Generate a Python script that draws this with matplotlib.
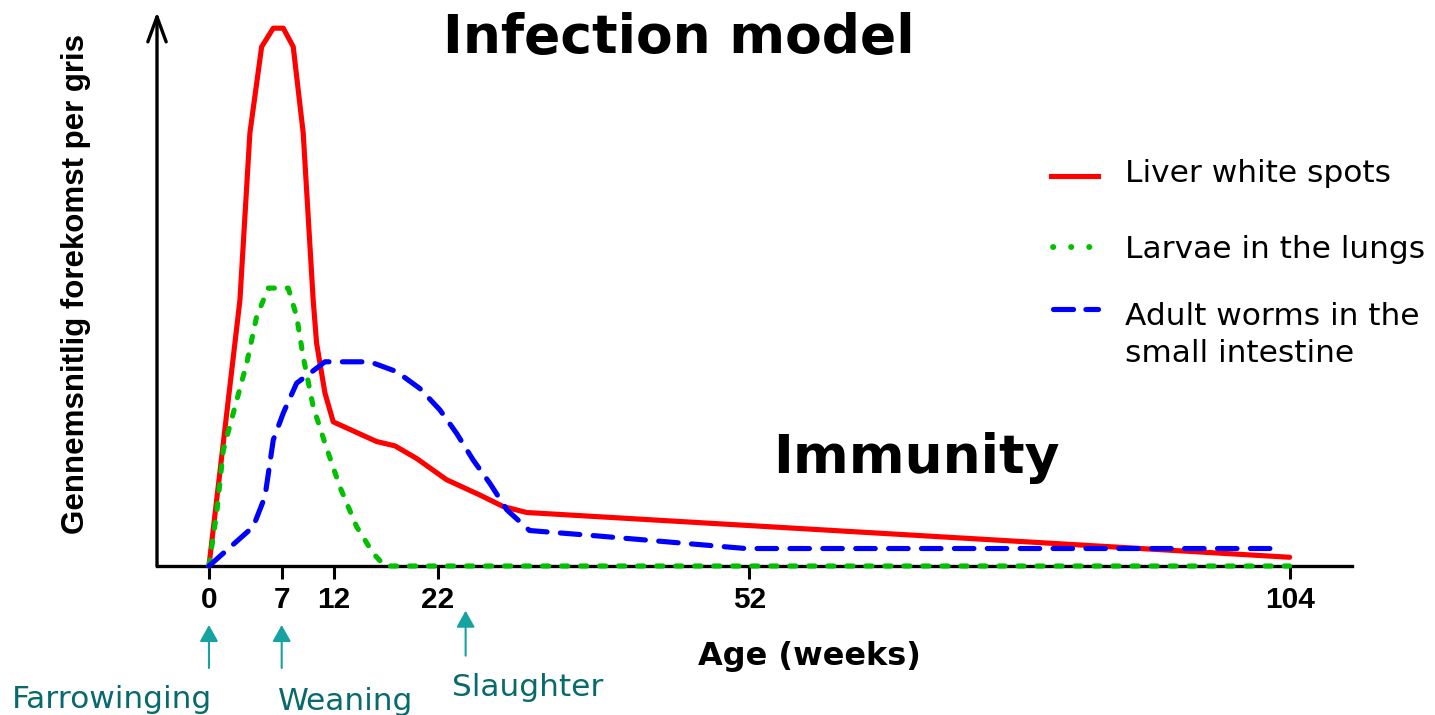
import matplotlib
matplotlib.use("Agg")
import matplotlib.pyplot as plt
from matplotlib.lines import Line2D

# data (age in weeks, relative level 0-100)
liver_weeks = [0, 2.98, 3.94, 5.07, 6.19, 7.15, 8.11, 9.07, 10.03, 10.36, 11.16, 11.96,
               16.13, 17.9, 19.98, 22.87, 26.07, 28.31, 30.57, 52.05, 104]
liver_level = [0, 48.7, 79.3, 95.1, 98.5, 98.5, 95.1, 79.3, 48.7, 40.8, 31.7, 26.4,
               22.8, 22.0, 19.7, 15.8, 13.0, 10.9, 9.8, 7.4, 1.6]

larvae_weeks = [0, 0.74, 1.38, 2.34, 3.63, 4.59, 5.71, 7.63, 8.44, 9.07, 10.03, 11.16,
                12.6, 14.21, 15.81, 16.93, 104]
larvae_level = [0, 9.7, 21.2, 28.0, 37.1, 45.7, 50.9, 50.9, 45.7, 38.3, 29.2, 22.5,
                14.5, 7.2, 2.3, 0, 0]

adult_weeks = [0, 4.26, 5.39, 6.19, 7.15, 8.44, 9.72, 11.16, 15.49, 18.06, 20.3, 22.22,
               23.83, 25.43, 27.05, 28.66, 30.85, 37.43, 51.66, 103]
adult_level = [0, 7.2, 12.7, 23.1, 28.0, 33.5, 35.3, 37.4, 37.4, 35.6, 32.5, 28.6,
               24.3, 19.4, 15.1, 10.3, 6.5, 5.5, 3.2, 3.2]

tick_weeks = [0, 7, 12, 22, 52, 104]
events = ["Farrowinging", "Weaning", "Slaughter"]
event_weeks = [0, 7, 24.7]

W, H = 1435, 715


def fpx(x, y):
    return x / W, 1 - y / H


fig = plt.figure(figsize=(W / 100, H / 100), dpi=100)
ax = fig.add_axes([157 / W, (H - 566) / H, (1352 - 157) / W, (566 - 12) / H])
ax.set_xlim(-5.0, 110.0)
ax.set_ylim(0, 554 / 5.46)

lw = 3.7
ax.plot(liver_weeks, liver_level, color="#ff0000", lw=lw, solid_capstyle="round",
        solid_joinstyle="round", zorder=3, clip_on=False)
ax.plot(larvae_weeks, larvae_level, color="#00c000", lw=lw, dashes=(1.2, 2.5),
        dash_capstyle="round", zorder=4, clip_on=False)
ax.plot(adult_weeks, adult_level, color="#0000ff", lw=lw, dashes=(3.8, 2.6),
        dash_capstyle="round", zorder=5, clip_on=False)

for s in ["top", "right", "left"]:
    ax.spines[s].set_visible(False)
ax.spines["bottom"].set_linewidth(2.4)
ax.spines["bottom"].set_zorder(2)

# left axis with open arrow head
ax.annotate("", xy=(0, 1), xytext=(0, 0), xycoords="axes fraction",
            arrowprops=dict(arrowstyle="->,head_length=0.9,head_width=0.33",
                            mutation_scale=20, lw=2.4, color="black",
                            shrinkA=0, shrinkB=0))

ax.set_yticks([])
ax.set_xticks(tick_weeks)
ax.set_xticklabels([str(t) for t in tick_weeks], fontfamily="Liberation Sans",
                   fontweight="bold", fontsize=21.5)
ax.tick_params(axis="x", direction="out", length=9.4, width=2.2, pad=5.0)

# titles
fig.text(*fpx(443, 53.3), "Infection model", fontfamily="DejaVu Sans", fontweight="bold",
         fontsize=38.5, ha="left", va="baseline")
fig.text(*fpx(773, 473), "Immunity", fontfamily="DejaVu Sans", fontweight="bold",
         fontsize=38.5, ha="left", va="baseline")
fig.text(*fpx(698, 665), "Age (weeks)", fontfamily="DejaVu Sans", fontweight="bold",
         fontsize=23, ha="left", va="baseline")
fig.text(*fpx(76, 284), "Gennemsnitlig forekomst per gris", fontfamily="Liberation Sans",
         fontweight="bold", fontsize=22.5, rotation=90, ha="center", va="center")

# legend drawn by hand
leg_font = dict(fontfamily="DejaVu Sans", fontsize=22.5, ha="left", va="baseline")
x0, x1 = 1051 / W, 1098 / W
fig.add_artist(Line2D([x0, x1], [1 - 176 / H] * 2, color="#ff0000", lw=lw))
fig.add_artist(Line2D([1052.7 / W, 1092 / W], [1 - 246.7 / H] * 2, color="#00c000", lw=4.2,
                      dashes=(0.05, 3.05), dash_capstyle="round"))
fig.add_artist(Line2D([1053 / W, 1098 / W], [1 - 309.3 / H] * 2, color="#0000ff", lw=lw,
                      dashes=(3.9, 2.4), dash_capstyle="round"))
fig.text(*fpx(1125, 181.7), "Liver white spots", **leg_font)
fig.text(*fpx(1125, 258.3), "Larvae in the lungs", **leg_font)
fig.text(*fpx(1125, 325), "Adult worms in the", **leg_font)
fig.text(*fpx(1125, 361.7), "small intestine", **leg_font)

# events below the axis
arrow_color = "#17a2a2"
text_color = "#086a6c"
tips = [625, 625, 610.7]
tails = [668, 668, 655.7]
label_pos = [(11.6, 708), (278, 710), (452, 696.5)]
for name, wk, tip, tail, (lx, ly) in zip(events, event_weeks, tips, tails, label_pos):
    ax.annotate("", xy=(wk, H - tip), xytext=(wk, H - tail),
                xycoords=("data", "figure pixels"), textcoords=("data", "figure pixels"),
                arrowprops=dict(arrowstyle="-|>,head_length=0.5,head_width=0.28",
                                mutation_scale=20, lw=1.5, color=arrow_color,
                                shrinkA=0, shrinkB=0))
    fig.text(*fpx(lx, ly), name, fontfamily="DejaVu Sans", fontsize=22.5, color=text_color,
             ha="left", va="baseline")

fig.savefig("out.png", dpi=100)
